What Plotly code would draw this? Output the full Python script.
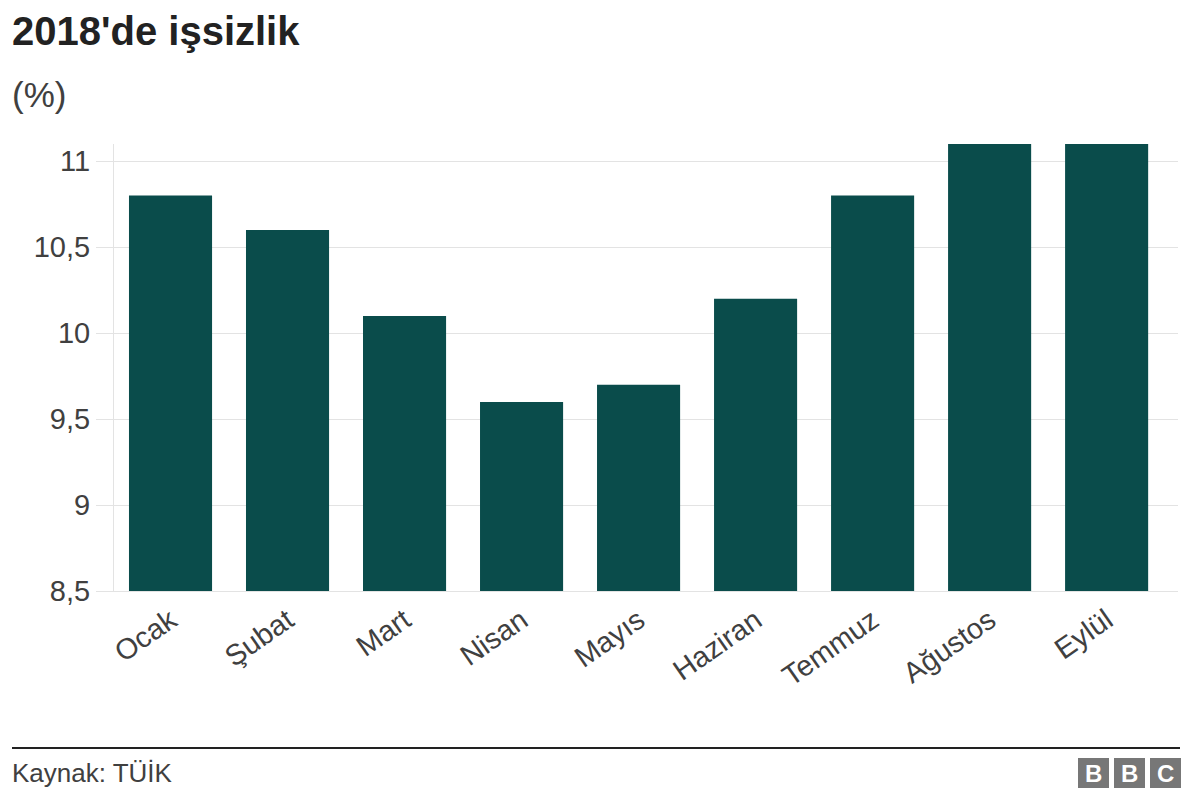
import plotly.graph_objects as go

# data
months = ["Ocak", "Şubat", "Mart", "Nisan", "Mayıs", "Haziran", "Temmuz", "Ağustos", "Eylül"]
rates = [10.8, 10.6, 10.1, 9.6, 9.7, 10.2, 10.8, 11.1, 11.1]
y_ticks = [8.5, 9, 9.5, 10, 10.5, 11]
y_tick_labels = ["8,5", "9", "9,5", "10", "10,5", "11"]

W, H = 1200, 806
L, R, T, B = 114, 22, 144, 215
FONT = "Liberation Sans, Arial, sans-serif"
BAR = "#0a4c4b"
GRID = "#e3e3e3"
TEXT = "#404040"


def px(x):
    # pixel x -> paper x
    return (x - L) / (W - L - R)


def py(y):
    # pixel y -> paper y
    return (H - B - y) / (H - T - B)


fig = go.Figure()
fig.add_trace(
    go.Bar(
        x=months,
        y=rates,
        marker_color=BAR,
        marker_line_width=0,
        hovertemplate="%{x}: %{y}<extra></extra>",
    )
)

fig.update_layout(
    width=W,
    height=H,
    margin=dict(l=L, r=R, t=T, b=B),
    paper_bgcolor="white",
    plot_bgcolor="white",
    showlegend=False,
    bargap=0.29,
    font=dict(family=FONT, color=TEXT),
)

fig.update_xaxes(
    range=[-0.483, 8.61],
    tickangle=-35,
    tickfont=dict(size=29, color=TEXT),
    showgrid=False,
    showline=True,
    linecolor=GRID,
    linewidth=1,
    ticks="",
)
fig.update_yaxes(
    range=[8.5, 11.1],
    tickvals=y_ticks,
    ticktext=y_tick_labels,
    tickfont=dict(size=29, color=TEXT),
    showgrid=True,
    gridcolor=GRID,
    gridwidth=1,
    zeroline=False,
    showline=True,
    linecolor=GRID,
    ticks="outside",
    ticklen=17,
    tickcolor=GRID,
)

# titles
fig.add_annotation(
    text="<b>2018'de işsizlik</b>", xref="paper", yref="paper",
    x=px(10), y=py(31), xanchor="left", yanchor="middle",
    showarrow=False, font=dict(size=40, color="#222222", family=FONT),
)
fig.add_annotation(
    text="(%)", xref="paper", yref="paper",
    x=px(10), y=py(95), xanchor="left", yanchor="middle",
    showarrow=False, font=dict(size=35, color=TEXT, family=FONT),
)

# footer
fig.add_shape(
    type="line", xref="paper", yref="paper",
    x0=px(12), x1=px(1180), y0=py(748), y1=py(748),
    line=dict(color="#222222", width=2),
)
fig.add_annotation(
    text="Kaynak: TÜİK", xref="paper", yref="paper",
    x=px(10), y=py(773), xanchor="left", yanchor="middle",
    showarrow=False, font=dict(size=26, color=TEXT, family=FONT),
)

# BBC logo blocks
for i, letter in enumerate("BBC"):
    x0 = 1078 + i * 36
    fig.add_shape(
        type="rect", xref="paper", yref="paper",
        x0=px(x0), x1=px(x0 + 31), y0=py(758), y1=py(788),
        fillcolor="#777777", line_width=0,
    )
    fig.add_annotation(
        text="<b>" + letter + "</b>", xref="paper", yref="paper",
        x=px(x0 + 15.5), y=py(773), xanchor="center", yanchor="middle",
        showarrow=False, font=dict(size=24, color="white", family=FONT),
    )

fig.write_html(
    "out.html",
    config={"displayModeBar": False},
    post_script="document.body.style.margin='0';",
)
